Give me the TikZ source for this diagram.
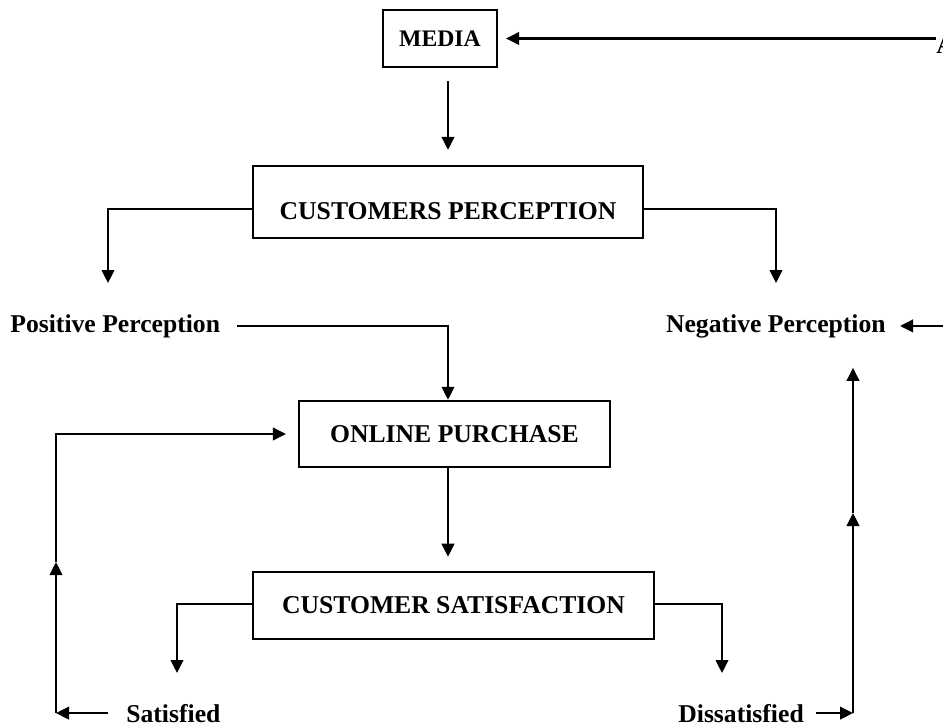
\documentclass[tikz,border=0pt]{standalone}
\usepackage{fontspec}
\setmainfont{Liberation Serif}
\usetikzlibrary{arrows.meta,positioning,calc}
\tikzset{
  >={Triangle[length=7.4pt,width=7.2pt]},
  box/.style={draw, line width=1.4pt, inner sep=0pt, align=center,
              font=\fontsize{14.6}{17}\selectfont\bfseries},
  lbl/.style={inner sep=0pt, font=\fontsize{14.6}{17}\selectfont\bfseries},
  flow/.style={->, line width=1.15pt},
}

\begin{document}
\begin{tikzpicture}[x=0.02cm,y=-0.02cm]
    \useasboundingbox (0,0) rectangle (943,727);
    % boxes
    \node[box,minimum width=2.28cm,minimum height=1.14cm,
          font=\fontsize{13.5}{16}\selectfont\bfseries] (media) at (440,38.5) {MEDIA};
    \node[box,minimum width=7.8cm,minimum height=1.44cm,
          text height=19.4pt,text depth=0pt] (cp) at (448,202) {CUSTOMERS PERCEPTION};
    \node[box,minimum width=6.22cm,minimum height=1.32cm] (op) at (454.5,434) {ONLINE PURCHASE};
    \node[box,minimum width=8.02cm,minimum height=1.34cm] (cs) at (453.5,605.5) {CUSTOMER SATISFACTION};
    % labels
    \node[lbl,anchor=base west] (pos) at (10,332) {Positive Perception};
    \node[lbl,anchor=base east] (neg) at (886,332) {Negative Perception};
    \node[lbl,anchor=base west] (sat) at (126,722) {Satisfied};
    \node[lbl,anchor=base west] (dis) at (678,722) {Dissatisfied};
    \node[lbl,anchor=base west] (attA) at (936,53) {A};
    % turning points
    \coordinate (mid) at (448,0);
    \coordinate (edge) at (943,0);
    \coordinate (lx) at (56,0);
    \coordinate (rx) at (853,0);
    \coordinate (lTip) at (108,283);
    \coordinate (rTip) at (776,283);
    \coordinate (sTip) at (177,673);
    \coordinate (dTip) at (722,673);
    \coordinate (lBot) at (sat.west -| lx);
    \coordinate (lMid) at (56,562);
    \coordinate (rBot) at (dis.east -| rx);
    \coordinate (rMid) at (853,513);
    % connectors
    \draw[flow,shorten >=4.5pt](media.east -| attA.west)--(media.east);
    \draw[flow,shorten <=7.4pt,shorten >=8.5pt](mid |- media.south)--(mid |- cp.north);
    \draw[flow]([yshift=-0.14cm]cp.west) -| (lTip);
    \draw[flow]([yshift=-0.14cm]cp.east) -| (rTip);
    \draw[flow,shorten <=9.7pt](pos.east) -| (mid |- op.north);
    \draw[flow,shorten >=8pt](mid |- op.south)--(mid |- cs.north);
    \draw[flow]([yshift=0.03cm]cs.west) -| (sTip);
    \draw[flow]([yshift=0.03cm]cs.east) -| (dTip);
    \draw[flow,shorten <=10pt](sat.west)--(lBot);
    \draw[flow](lBot)--(lMid);
    \draw[flow,shorten >=6.8pt](lMid) |- (op.west);
    \draw[flow,shorten <=6.8pt](dis.east)--(rBot);
    \draw[flow](rBot)--(rMid);
    \draw[flow,shorten >=17pt](rMid)--(rBot |- neg.south);
    \draw[flow,shorten >=8pt](neg.east -| edge)--(neg.east);
  \end{tikzpicture}
\end{document}
